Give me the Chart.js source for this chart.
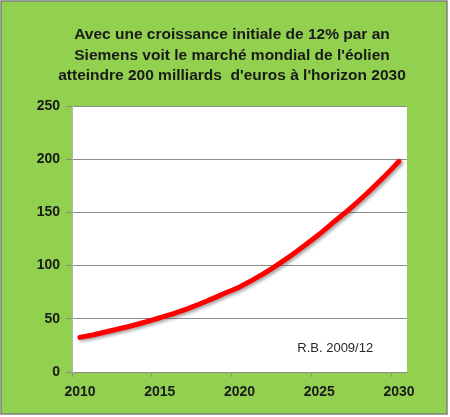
<!DOCTYPE html>
<html>
<head>
<meta charset="utf-8">
<script src="https://cdn.jsdelivr.net/npm/chart.js@4.4.0/dist/chart.umd.min.js"></script>
<style>
  html, body { margin: 0; padding: 0; background: #fff; }
  #wrap { width: 450px; height: 417px; }
</style>
</head>
<body>
<div id="wrap"><canvas id="eolien" width="450" height="417"></canvas></div>
<script>
// data (milliards d'euros)
const years = ['2010', '2011', '2012', '2013', '2014', '2015', '2016', '2017', '2018', '2019', '2020',
               '2021', '2022', '2023', '2024', '2025', '2026', '2027', '2028', '2029', '2030'];
const marketValues = [32.5, 35.5, 39, 42.5, 46.5, 51, 55.5, 61, 67, 73.5, 80,
                      88, 97, 107, 118, 129.5, 142, 154.5, 168, 182.5, 198];
const yTicks = [0, 50, 100, 150, 200, 250];
const titleLines = [
    'Avec une croissance initiale de 12% par an',
    'Siemens voit le marché mondial de l\'éolien',
    'atteindre 200 milliards  d\'euros à l\'horizon 2030'
];
const noteText = 'R.B. 2009/12';

const fontFamily = '"Liberation Sans", Arial, sans-serif';

// green frame + white plot area
const background = {
    id: 'background',
    beforeDraw(chart) {
        const c = chart.ctx, a = chart.chartArea;
        c.save();
        c.fillStyle = '#ffffff';
        c.fillRect(0, 0, chart.width, chart.height);
        c.fillStyle = '#92d050';
        c.fillRect(1, 1, 446, 413);
        c.strokeStyle = '#7f7f7f';
        c.lineWidth = 1.5;
        c.strokeRect(1, 1, 446, 413);
        c.fillStyle = '#ffffff';
        c.fillRect(a.left, a.top, a.right - a.left, a.bottom - a.top);
        c.restore();
    }
};

// soft shadow under the red line
const lineShadow = {
    id: 'lineShadow',
    beforeDatasetsDraw(chart) {
        const c = chart.ctx;
        c.save();
        c.shadowColor = 'rgba(70,70,70,0.45)';
        c.shadowBlur = 3;
        c.shadowOffsetX = 2;
        c.shadowOffsetY = 2;
    },
    afterDatasetsDraw(chart) {
        chart.ctx.restore();
    }
};

// title and the small signature
const texts = {
    id: 'texts',
    afterDraw(chart) {
        const c = chart.ctx;
        c.save();
        c.fillStyle = '#1a1a1a';
        c.textAlign = 'center';
        c.textBaseline = 'middle';
        c.font = 'bold 15.5px ' + fontFamily;
        titleLines.forEach((line, i) => {
            c.fillText(line, 232, 35 + i * 20.5);
        });
        c.font = '13px ' + fontFamily;
        c.fillStyle = '#262626';
        c.fillText(noteText, chart.scales.x.getPixelForValue(16), chart.scales.y.getPixelForValue(22));
        c.restore();
    }
};

const ctx = document.getElementById('eolien').getContext('2d');
new Chart(ctx, {
    type: 'line',
    data: {
        labels: years,
        datasets: [{
            data: marketValues,
            borderColor: '#ff0000',
            borderWidth: 5,
            borderCapStyle: 'round',
            pointRadius: 0,
            cubicInterpolationMode: 'monotone',
            fill: false
        }]
    },
    options: {
        responsive: false,
        animation: false,
        layout: { padding: { top: 106, right: 43, bottom: 0, left: 0 } },
        plugins: {
            legend: { display: false },
            title: { display: false },
            tooltip: { enabled: false }
        },
        scales: {
            x: {
                offset: true,
                grid: {
                    offset: true,
                    drawOnChartArea: false,
                    tickLength: 5,
                    color: (c) => (c.index % 5 === 0 ? '#8c8c8c' : 'rgba(0,0,0,0)')
                },
                border: { color: '#8c8c8c' },
                ticks: {
                    autoSkip: false,
                    maxRotation: 0,
                    padding: 7,
                    color: '#1a1a1a',
                    font: { family: fontFamily, size: 14, weight: 'bold' },
                    callback: (v, i) => (i % 5 === 0 ? years[i] : '')
                },
                afterFit: (s) => { s.height = 45; }
            },
            y: {
                min: yTicks[0],
                max: yTicks[yTicks.length - 1],
                afterBuildTicks: (s) => { s.ticks = yTicks.map(v => ({ value: v })); },
                grid: { color: '#8c8c8c', tickLength: 6 },
                border: { color: '#b5b5b5' },
                ticks: {
                    padding: 6,
                    color: '#1a1a1a',
                    font: { family: fontFamily, size: 14, weight: 'bold' }
                },
                afterFit: (s) => { s.width = 72; }
            }
        }
    },
    plugins: [background, lineShadow, texts]
});
</script>
</body>
</html>
